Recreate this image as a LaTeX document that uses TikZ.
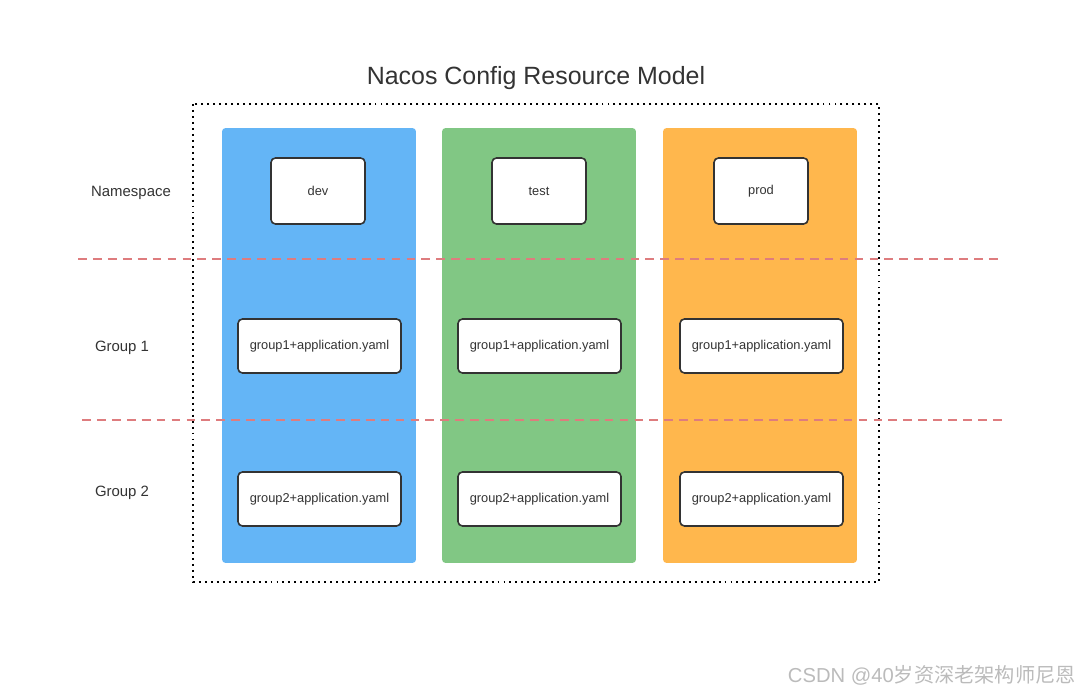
\documentclass[tikz,border=0pt]{standalone}
\usepackage{fontspec}
\setmainfont{Liberation Sans}
\newfontfamily\cjkfont{Noto Sans CJK SC}
\usepackage{xcolor}
\usetikzlibrary{positioning}
\definecolor{NacosBlue}{HTML}{64B5F6}
\definecolor{NacosGreen}{HTML}{81C784}
\definecolor{NacosOrange}{HTML}{FFB74D}
\definecolor{NacosRed}{HTML}{DE7C7E}
\definecolor{NacosText}{HTML}{333333}
\definecolor{NacosMark}{HTML}{BBBBBB}

\begin{document}
\begin{tikzpicture}[
  x=0.02cm, y=-0.02cm,
  font=\fontsize{7.3}{9}\selectfont, text=NacosText,
  column/.style={rectangle, rounded corners=2pt, draw=none,
                 minimum width=3.88cm, minimum height=8.7cm},
  nsbox/.style={draw=NacosText, rectangle, rounded corners=2.5pt, fill=white,
                line width=0.9pt, minimum width=1.88cm, minimum height=1.32cm},
  cfgbox/.style={draw=NacosText, rectangle, rounded corners=2.5pt, fill=white,
                 line width=0.9pt, minimum width=3.26cm, minimum height=1.08cm},
  rowlabel/.style={font=\fontsize{8.5}{10}\selectfont},
  frame/.style={line width=1.1pt, dash pattern=on 1.1pt off 2.3pt},
  divider/.style={NacosRed, line width=0.8pt, dash pattern=on 5pt off 3.5pt},
]
\useasboundingbox (0,0) rectangle (1080,692);

% title and outer frame
\node[font=\fontsize{14.2}{17}\selectfont] (title) at (536,78) {Nacos Config Resource Model};
\draw[frame] (193,104) rectangle (879,582);

% namespace columns
\node[column, fill=NacosBlue]   (dev col)  at (319,345.5) {};
\node[column, fill=NacosGreen]  (test col) at (539,345.5) {};
\node[column, fill=NacosOrange] (prod col) at (760,345.5) {};

% namespace row
\node[nsbox] (dev)  at (318,191) {dev};
\node[nsbox] (test) at (539,191) {test};
\node[nsbox] (prod) at (761,191) {prod};

% group rows
\node[cfgbox] (dev g1)  at (319.5,346) {group1+application.yaml};
\node[cfgbox] (test g1) at (539.5,346) {group1+application.yaml};
\node[cfgbox] (prod g1) at (761.5,346) {group1+application.yaml};
\node[cfgbox] (dev g2)  at (319.5,499) {group2+application.yaml};
\node[cfgbox] (test g2) at (539.5,499) {group2+application.yaml};
\node[cfgbox] (prod g2) at (761.5,499) {group2+application.yaml};

% row labels
\node[rowlabel] (ns label) at (131,193) {Namespace};
\node[rowlabel] (g1 label) at (122,348) {Group 1};
\node[rowlabel] (g2 label) at (122,493) {Group 2};

% dividers
\coordinate (div1 w) at (78,259);
\coordinate (div1 e) at (1000,259);
\coordinate (div2 w) at (82,420);
\coordinate (div2 e) at (1004,420);
\draw[divider] (div1 w) -- (div1 e);
\draw[divider] (div2 w) -- (div2 e);

% watermark
\node[text=NacosMark, font=\fontsize{11.5}{14}\selectfont, anchor=east, inner sep=0pt] (mark) at (1076,675) {CSDN @40{\cjkfont 岁资深老架构师尼恩}};
\end{tikzpicture}
\end{document}
